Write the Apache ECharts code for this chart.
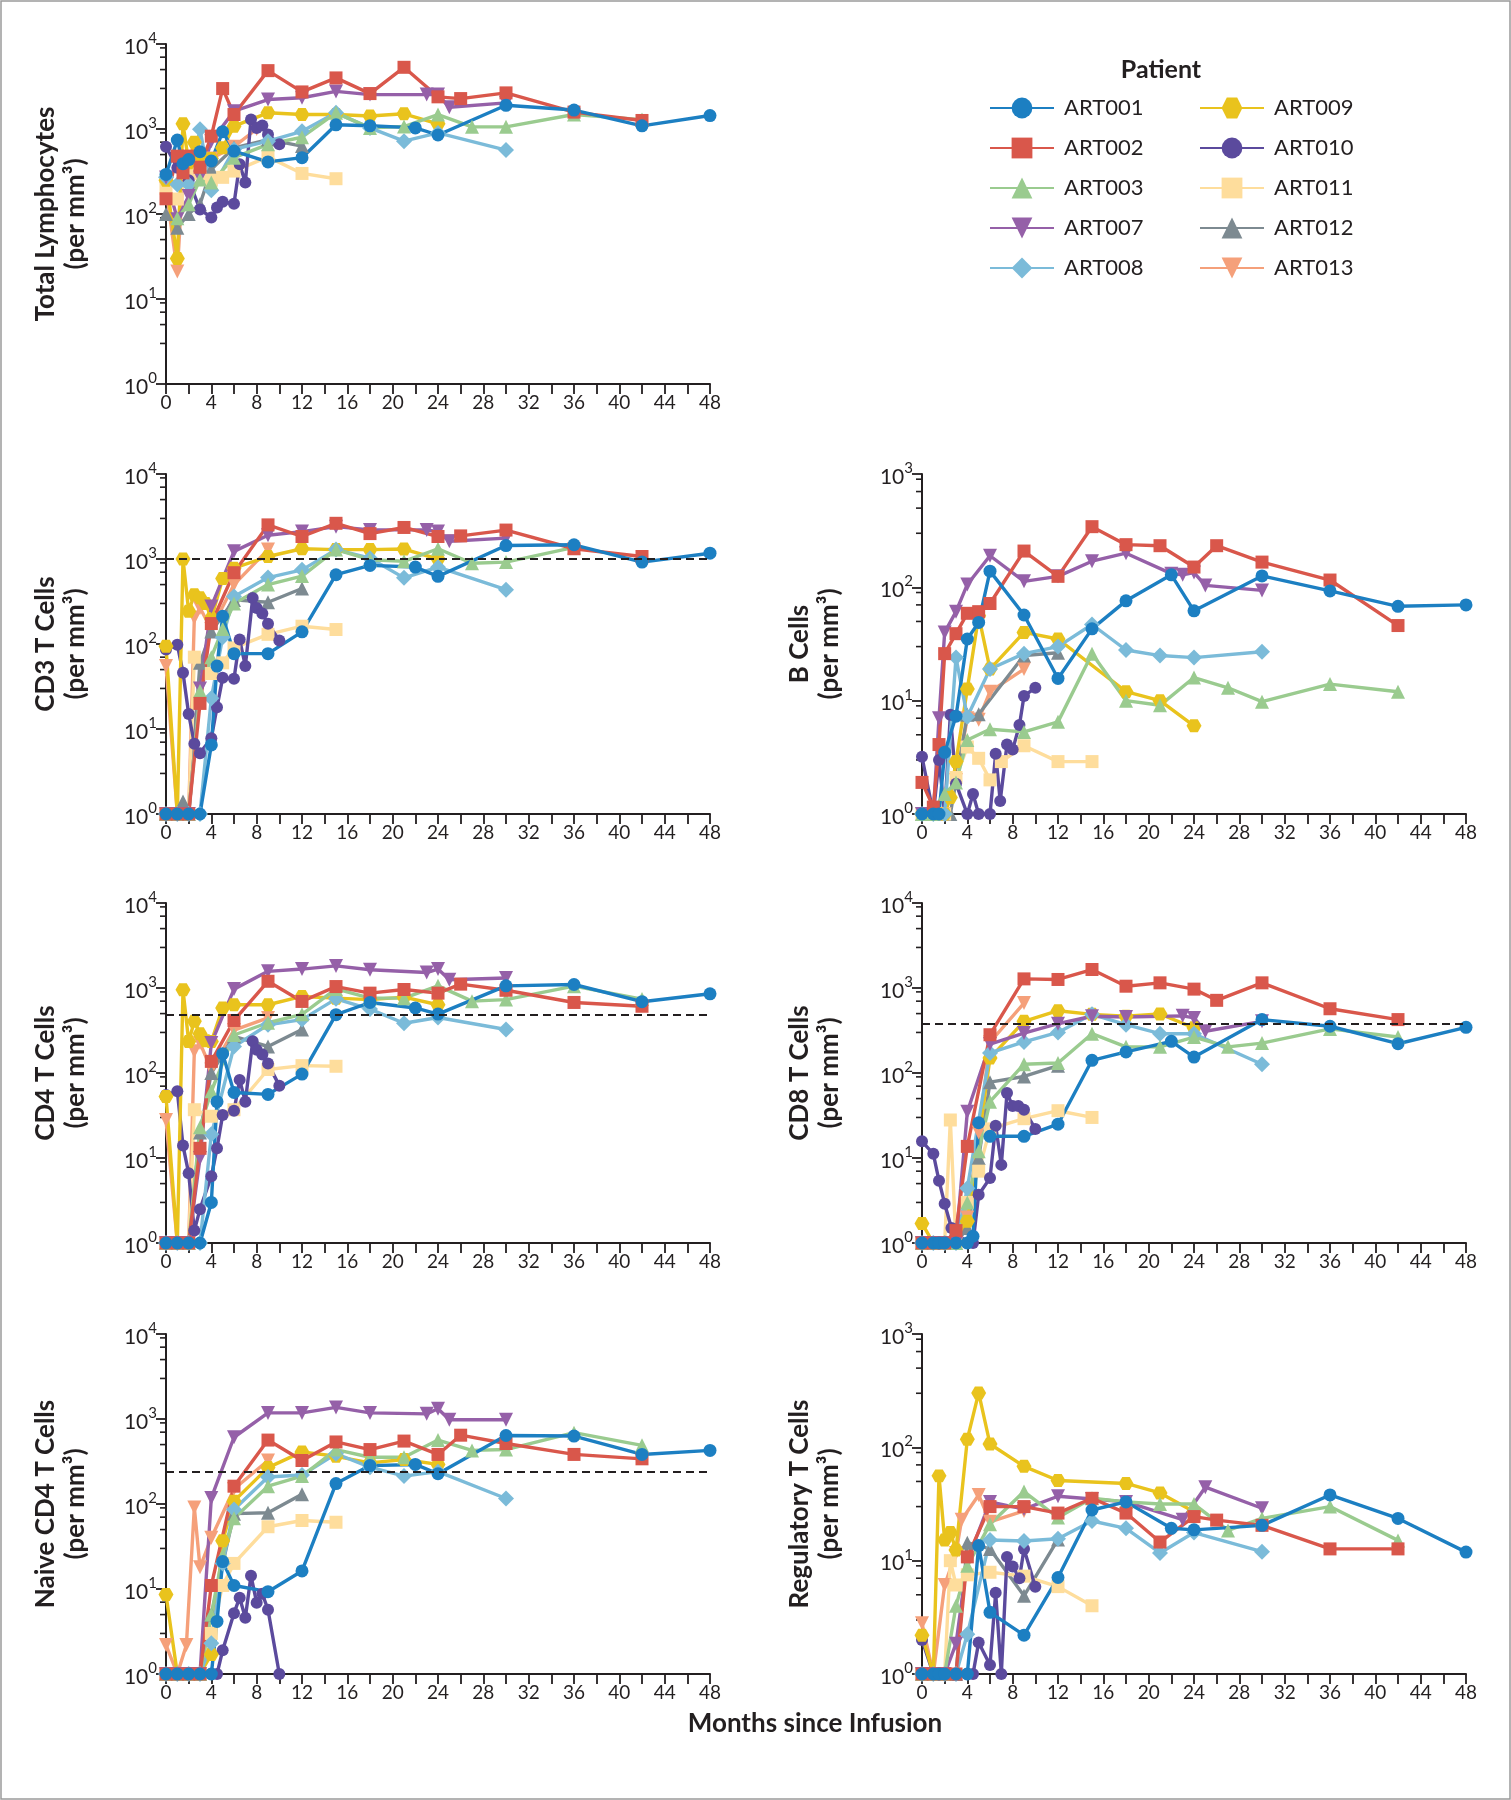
<!DOCTYPE html>
<html><head><meta charset="utf-8">
<script src="https://cdn.jsdelivr.net/npm/echarts@6/dist/echarts.min.js"></script>
<style>html,body{margin:0;padding:0;background:#fff}#c{width:1511px;height:1800px}</style>
</head><body><div id="c"></div>
<script>
// ---------------- DATA ----------------
const patients = ['ART001','ART002','ART003','ART007','ART008','ART009','ART010','ART011','ART012','ART013'];
const monthTicks = [0,4,8,12,16,20,24,28,32,36,40,44,48];
const minorTickMultipliers = [3,5,7,9];
const referenceLines = {cd3: 1000, cd4: 485, cd8: 380, naive: 240};

const totalLymphocytes = {
  ART001: [[0,292],[1,740],[1.5,390],[2,437],[3,540],[4,420],[5,930],[6,550],[9,410],[12,460],[15,1120],[18,1090],[22,1030],[24,850],[30,1900],[36,1670],[42,1090],[48,1440]],
  ART002: [[0,151],[1,480],[1.5,305],[2,480],[3,355],[4,824],[5,2990],[6,1480],[9,4860],[12,2730],[15,3990],[18,2610],[21,5320],[24,2390],[26,2280],[30,2660],[36,1580],[42,1260]],
  ART003: [[1,89],[2,130],[3,255],[4,234],[6,460],[9,660],[12,800],[15,1550],[18,1030],[21,1070],[24,1480],[27,1060],[30,1060],[36,1480],[42,1290]],
  ART007: [[0,268],[1,87],[2,163],[3,268],[4,720],[6,1620],[9,2220],[12,2330],[15,2770],[18,2540],[23,2540],[24,2540],[25,1800],[30,2030]],
  ART008: [[0,270],[1,222],[2,222],[3,990],[4,190],[6,575],[9,720],[12,940],[15,1550],[18,1030],[21,720],[24,900],[30,565]],
  ART009: [[0,250],[1,30],[1.5,1150],[2,400],[2.5,700],[3,500],[4,450],[5,600],[6,1080],[9,1550],[12,1480],[15,1480],[18,1420],[21,1510],[24,1150]],
  ART010: [[0,620],[1,350],[2,250],[3,113],[4,91],[4.5,119],[5,139],[6,132],[6.5,385],[7,234],[7.5,1290],[8,1030],[8.5,1100],[9,860],[10,660]],
  ART011: [[0,200],[1,150],[2,300],[3,300],[4,250],[5,270],[6,320],[9,470],[12,300],[15,260]],
  ART012: [[0,100],[1,69],[2,100],[3,130],[4,335],[6,600],[9,750],[12,630]],
  ART013: [[0,200],[1,21],[1.5,300],[2,400],[3,400],[4,450],[6,620],[8,1000]]
};
const cd3Cells = {
  ART001: [[0,1],[1,1],[2,1],[3,1],[4,6.5],[4.5,55],[5,212],[6,77],[9,77],[12,139],[15,653],[18,841],[22,804],[24,625],[30,1440],[36,1470],[42,920],[48,1170]],
  ART002: [[0,1],[1,1],[2,1],[3,20],[4,174],[6,690],[9,2520],[12,1840],[15,2630],[18,1990],[21,2350],[24,1840],[26,1870],[30,2190],[36,1320],[42,1070]],
  ART003: [[0,1],[1,1],[2,1],[3,28],[4,70],[5,150],[6,300],[9,500],[12,630],[15,1290],[18,980],[21,940],[24,1320],[27,890],[30,920],[36,1370]],
  ART007: [[0,1],[1,1],[2,1],[3,30],[4,277],[6,1230],[9,1900],[12,2100],[15,2400],[18,2200],[23,2200],[24,2100],[25,1620],[30,1760]],
  ART008: [[0,1],[1,1],[2,1],[3,1],[4,23],[5,120],[6,363],[9,605],[12,745],[15,1290],[18,1020],[21,600],[24,800],[30,435]],
  ART009: [[0,94],[1,1],[1.5,1000],[2,243],[2.5,380],[3,350],[3.5,300],[4,200],[5,590],[6,780],[9,1070],[12,1320],[15,1290],[18,1290],[21,1310],[24,1000]],
  ART010: [[0,86],[1,98],[1.5,46],[2,15],[2.5,6.7],[3,5.2],[4,7.8],[4.5,18],[5,40],[6,39],[6.5,113],[7,55],[7.65,348],[8,265],[8.5,228],[9,173],[10,110]],
  ART011: [[0,1],[1,1],[2,1],[2.5,70],[4,45],[5,60],[6,90],[9,130],[12,162],[15,148]],
  ART012: [[0,1],[1,1],[1.5,1.4],[2,1],[3,60],[4,140],[6,330],[9,310],[12,450]],
  ART013: [[0,55],[1,1],[2,1],[2.5,204],[3,265],[4,150],[6,500],[9,1290]]
};
const bCells = {
  ART001: [[0,1],[1,1],[1.5,1],[2,3.5],[3,7.3],[4,35],[5,49],[6,139],[9,57],[12,15.7],[15,43],[18,76],[22,129],[24,62],[30,126],[36,93],[42,68],[48,70]],
  ART002: [[0,1.9],[1,1.15],[1.5,4.1],[2,26],[3,39],[4,59],[5,61],[6,72],[9,209],[12,125],[15,343],[18,238],[21,233],[24,151],[26,233],[30,167],[36,116],[42,46]],
  ART003: [[0,1],[1,1],[2,1.5],[3,1.9],[4,4.5],[6,5.6],[9,5.3],[12,6.5],[15,26],[18,10],[21,9.1],[24,16],[27,13],[30,9.8],[36,14],[42,12]],
  ART007: [[0,1],[1,1],[1.5,7],[2,40],[3,61],[4,106],[6,190],[9,113],[12,125],[15,170],[18,200],[22,132],[23,129],[24,135],[25,104],[30,94]],
  ART008: [[0,1],[1,1],[2,1],[3,24],[4,7.2],[6,19],[9,26],[12,30],[15,47],[18,28],[21,25],[24,24],[30,27]],
  ART009: [[0,1],[1,1],[2,1],[2.5,1.4],[3,2.9],[4,12.7],[5,56],[6,19],[9,40],[12,35],[18,12],[21,10],[24,6]],
  ART010: [[0,3.2],[1,1],[1.5,3],[2,1],[2.5,7.5],[3,1.85],[4,1],[4.5,1.5],[5,1],[6,1],[6.5,3.4],[6.9,1.3],[7.5,4.1],[8,3.7],[8.6,6.1],[9,11],[10,13]],
  ART011: [[0,1],[1,1],[2,1],[3,2.1],[4,3.9],[5,3.1],[6,2.0],[7,2.9],[9,4.0],[12,2.9],[15,2.9]],
  ART012: [[0,1],[1,1],[2,1],[2.5,1],[4,7.5],[5,7.6],[9,25],[12,26.5]],
  ART013: [[0,1],[1,1],[2,1],[3,2],[4,7],[5,6.8],[6,12],[9,19]]
};
const cd4Cells = {
  ART001: [[0,1],[1,1],[2,1],[3,1],[4,3.0],[4.5,46],[5,169],[6,59],[9,56],[12,97],[15,486],[18,675],[22,582],[24,493],[30,1060],[36,1100],[42,690],[48,855]],
  ART002: [[0,1],[1,1],[2,1],[3,13],[4,137],[6,415],[9,1200],[12,695],[15,1040],[18,870],[21,960],[24,870],[26,1110],[30,940],[36,676],[42,610]],
  ART003: [[0,1],[1,1],[2,1],[3,23],[4,61],[6,280],[9,390],[12,490],[15,975],[18,760],[21,760],[24,1060],[27,700],[30,730],[36,1050],[42,740]],
  ART007: [[0,1],[1,1],[2,1],[3,10],[4,225],[6,970],[9,1570],[12,1670],[15,1820],[18,1640],[23,1520],[24,1670],[25,1250],[30,1310]],
  ART008: [[0,1],[1,1],[2,1],[3,1],[4,19],[6,205],[9,370],[12,425],[15,745],[18,565],[21,385],[24,450],[30,325]],
  ART009: [[0,53],[1,1],[1.5,955],[2,235],[2.5,405],[3,290],[3.5,240],[4,235],[5,580],[6,635],[9,635],[12,795],[15,760],[18,730],[21,780],[24,635]],
  ART010: [[0,55],[1,61],[1.5,14],[2,6.6],[2.5,1.4],[3,2.5],[4,6.1],[4.5,13],[5,32],[6,36],[6.5,83],[7,46],[7.65,236],[8,188],[8.5,165],[9,129],[10,71]],
  ART011: [[0,1],[1,1],[2,1],[2.5,37],[4,31],[6,37],[9,110],[12,122],[15,120]],
  ART012: [[0,1],[1,1],[2,1],[3,20],[4,100],[6,270],[9,205],[12,325]],
  ART013: [[0,28],[1,1],[2,1],[2.5,180],[3,225],[4,110],[6,320],[9,445]]
};
const cd8Cells = {
  ART001: [[0,1],[1,1],[1.5,1],[2,1],[3,1],[4,1],[4.5,1.2],[5,26],[6,18],[9,18],[12,25],[15,141],[18,177],[22,236],[24,154],[30,425],[36,355],[42,221],[48,345]],
  ART002: [[0,1],[1,1],[2,1],[3,1.4],[4,13.7],[6,282],[9,1280],[12,1260],[15,1650],[18,1050],[21,1150],[24,970],[26,716],[30,1150],[36,570],[42,425]],
  ART003: [[0,1],[1,1],[2,1],[3,1],[4,3],[5,12],[6,46],[9,127],[12,131],[15,290],[18,203],[21,203],[24,265],[27,203],[30,225],[36,330],[42,265]],
  ART007: [[0,1],[1,1],[2,1],[3,1],[4,35],[6,219],[9,295],[12,380],[15,465],[18,455],[23,470],[24,445],[25,310],[30,405]],
  ART008: [[0,1],[1,1],[2,1],[3,1],[4,4.4],[6,172],[9,232],[12,300],[15,490],[18,370],[21,290],[24,290],[30,127]],
  ART009: [[0,1.7],[1,1],[2,1],[3,1],[4,1.8],[6,150],[9,405],[12,540],[15,490],[18,465],[21,495],[24,340]],
  ART010: [[0,15.7],[1,11.2],[1.5,5.4],[2,2.9],[2.6,1.5],[4,1],[4.5,1],[5,3.7],[6,5.8],[6.5,24],[7,8.3],[7.5,58],[8,41],[8.5,41],[9,37],[10,22]],
  ART011: [[0,1],[1,1],[2,1],[2.5,28],[3,1],[4,3],[5,7],[6,22],[9,29],[12,36],[15,30]],
  ART012: [[0,1],[1,1],[2,1],[3,1],[4,1.5],[5,10],[6,78],[9,91],[12,122]],
  ART013: [[0,1],[1,1],[2,1],[3,1],[4,2],[5,20],[6,230],[9,665]]
};
const naiveCd4Cells = {
  ART001: [[0,1],[1,1],[2,1],[3,1],[4,1],[4.5,4.15],[5,21],[6,11],[9,9.3],[12,16.3],[15,174],[18,283],[22,292],[24,227],[30,640],[36,630],[42,383],[48,427]],
  ART002: [[0,1],[1,1],[2,1],[3,1],[4,11],[6,162],[9,565],[12,325],[15,537],[18,437],[21,550],[24,383],[26,645],[30,515],[36,383],[42,340]],
  ART003: [[0,1],[1,1],[2,1],[3,1],[4,5],[5,25],[6,68],[9,162],[12,213],[15,437],[18,355],[21,355],[24,565],[27,427],[30,437],[36,690],[42,490]],
  ART007: [[0,1],[1,1],[2,1],[3,1],[4,118],[6,610],[9,1180],[12,1180],[15,1370],[18,1180],[23,1150],[24,1320],[25,980],[30,980]],
  ART008: [[0,1],[1,1],[2,1],[3,1],[4,2.3],[5,20],[6,86],[9,208],[12,219],[15,390],[18,271],[21,213],[24,240],[30,116]],
  ART009: [[0,8.6],[1,1],[2,1],[3,1],[4,1.7],[5,37],[6,108],[9,268],[12,410],[15,364],[18,305],[21,334],[24,292]],
  ART010: [[0,1],[1,1],[2,1],[3,1],[4,1],[4.5,1],[5,1.9],[6,5.2],[6.5,7.9],[7,4.6],[7.5,14.3],[8,6.9],[8.5,8.8],[9,5.7],[10,1]],
  ART011: [[0,1],[1,1],[2,1],[3,1],[4,3],[5,11],[6,20],[9,54],[12,64],[15,61]],
  ART012: [[0,1],[1,1],[2,1],[3,1],[4,5],[6,77],[9,79],[12,130]],
  ART013: [[0,2.2],[1,1],[1.8,2.2],[2.5,91],[3,18],[4,40],[6,150],[9,325]]
};
const regulatoryTCells = {
  ART001: [[0,1],[1,1],[1.5,1],[2,1],[3,1],[4,1],[5,13.6],[6,3.5],[9,2.2],[12,7.1],[15,28],[18,33],[22,19.3],[24,18.7],[30,20.5],[36,38],[42,23.6],[48,11.9]],
  ART002: [[0,1],[1,1],[2,1],[3,1],[4,10.8],[6,30],[9,30],[12,26.3],[15,35.5],[18,26.3],[21,14.6],[24,24.5],[26,22.8],[30,20.5],[36,12.7],[42,12.7]],
  ART003: [[0,1],[1,1],[2,1],[3,4],[4,9],[6,21],[9,40.7],[12,24],[15,35.5],[18,33],[21,31.6],[24,31.6],[27,18.5],[30,23.6],[36,30],[42,15.1]],
  ART007: [[0,1],[1,1],[2,1],[3,1.85],[4,10],[6,33],[9,28.5],[12,37],[15,35],[18,33],[23,23],[25,44.5],[30,29]],
  ART008: [[0,1],[1,1],[2,1],[3,1],[4,2.24],[6,15.2],[9,14.9],[12,15.6],[15,22.4],[18,19.3],[21,11.7],[24,17.7],[30,12]],
  ART009: [[0,2.2],[1,1],[1.5,56],[2,15.2],[2.5,17.7],[3,12.4],[4,118],[5,302],[6,107],[9,68],[12,51],[18,48],[21,39.6],[24,27]],
  ART010: [[0,2.0],[1,1],[2,1],[3,1],[4,1],[4.5,1],[5,1.9],[6,1.2],[6.5,5.2],[7,1],[7.5,10.8],[8,8.9],[8.6,7.0],[9,12.7],[10,5.9]],
  ART011: [[0,1],[1,1],[2,1],[2.5,10],[3,6.1],[4,7.5],[6,7.9],[9,7.3],[12,5.9],[15,4.0]],
  ART012: [[0,1],[1,1],[2,1],[3,1],[4,14.4],[6,12.7],[9,4.9],[12,15.4]],
  ART013: [[0,2.8],[1,1],[2,6.1],[3,11.7],[3.5,23],[5,38],[6,22],[9,27.5]]
};

// ---------------- STYLE / LAYOUT ----------------
const ink = '#231f20';
const font = 'Lato, "Open Sans", sans-serif';
const hexPath = 'path://M0,0.866 L0.5,0 L1.5,0 L2,0.866 L1.5,1.732 L0.5,1.732 Z';
const styles = {
  ART001: {color:'#1c7fc2', symbol:'circle', size:13},
  ART002: {color:'#d9574b', symbol:'rect', size:13},
  ART003: {color:'#9acb8f', symbol:'triangle', size:14},
  ART007: {color:'#9560a8', symbol:'triangle', size:14, rotate:180},
  ART008: {color:'#7bbbd9', symbol:'diamond', size:16},
  ART009: {color:'#e9c31d', symbol:hexPath, size:15},
  ART010: {color:'#5b4a9d', symbol:'circle', size:12},
  ART011: {color:'#fedd9c', symbol:'rect', size:13},
  ART012: {color:'#7d8a91', symbol:'triangle', size:14},
  ART013: {color:'#f5a07a', symbol:'triangle', size:14, rotate:180}
};
const panels = [
  {data: totalLymphocytes, title: 'Total Lymphocytes', decades: 4, ref: null, col: 0, row: 0},
  {data: cd3Cells, title: 'CD3 T Cells', decades: 4, ref: referenceLines.cd3, col: 0, row: 1},
  {data: bCells, title: 'B Cells', decades: 3, ref: null, col: 1, row: 1},
  {data: cd4Cells, title: 'CD4 T Cells', decades: 4, ref: referenceLines.cd4, col: 0, row: 2},
  {data: cd8Cells, title: 'CD8 T Cells', decades: 4, ref: referenceLines.cd8, col: 1, row: 2},
  {data: naiveCd4Cells, title: 'Naive CD4 T Cells', decades: 4, ref: referenceLines.naive, col: 0, row: 3},
  {data: regulatoryTCells, title: 'Regulatory T Cells', decades: 3, ref: null, col: 1, row: 3}
];
const colLeft = [166, 922];
const colNameGap = [75, 77];
const rowTop = [44, 474, 903, 1334];
const gridW = 544, gridH = 340;

const grids = [], xAxes = [], yAxes = [], series = [];
panels.forEach((p, i) => {
  grids.push({left: colLeft[p.col], top: rowTop[p.row], width: gridW, height: gridH});
  xAxes.push({
    type: 'value', gridIndex: i, min: 0, max: 48, interval: 2,
    axisLine: {show: true, onZero: false, lineStyle: {color: ink, width: 2}},
    axisTick: {show: true, length: 10, lineStyle: {color: ink, width: 1.8}},
    axisLabel: {margin: 9, fontSize: 19, color: ink, fontFamily: font,
      formatter: v => monthTicks.indexOf(v) >= 0 ? String(v) : ''},
    splitLine: {show: false}
  });
  yAxes.push({
    type: 'log', logBase: 10, gridIndex: i, min: 1, max: Math.pow(10, p.decades), splitNumber: p.decades,
    name: p.title + '\n(per mm³)', nameLocation: 'middle', nameRotate: 90, nameGap: colNameGap[p.col],
    nameTextStyle: {fontSize: 26, fontWeight: 'bold', fontFamily: font, color: ink, lineHeight: 30},
    axisLine: {show: true, lineStyle: {color: ink, width: 2}},
    axisTick: {show: true, length: 10, lineStyle: {color: ink, width: 1.8}},
    axisLabel: {margin: 9, color: ink, fontFamily: font,
      formatter: v => '{b|10}{s|' + Math.round(Math.log10(v)) + '}',
      rich: {
        b: {fontSize: 21, fontFamily: font, color: ink, lineHeight: 27, verticalAlign: 'bottom'},
        s: {fontSize: 15, fontFamily: font, color: ink, lineHeight: 27, verticalAlign: 'top'}
      }},
    splitLine: {show: false}, minorTick: {show: false}
  });
  // minor log ticks
  const minor = [];
  for (let d = 0; d < p.decades; d++) minorTickMultipliers.forEach(m => minor.push([0, m * Math.pow(10, d)]));
  series.push({
    type: 'custom', xAxisIndex: i, yAxisIndex: i, silent: true, clip: false, data: minor,
    encode: {x: 0, y: 1},
    renderItem: (params, api) => {
      const pt = api.coord([0, api.value(1)]);
      return {type: 'line', shape: {x1: pt[0] - 6, y1: pt[1], x2: pt[0], y2: pt[1]},
        style: {stroke: ink, lineWidth: 1.6}};
    }
  });
  patients.slice().reverse().forEach((pid, k) => {
    const st = styles[pid];
    const s = {
      type: 'line', name: pid, xAxisIndex: i, yAxisIndex: i, data: p.data[pid],
      symbol: st.symbol, symbolSize: st.size, symbolRotate: st.rotate || 0, symbolKeepAspect: true,
      showAllSymbol: true, clip: false, animation: false, color: st.color,
      lineStyle: {width: 3.4, color: st.color}, itemStyle: {color: st.color, opacity: 1}
    };
    if (k === 0 && p.ref != null) {
      s.markLine = {silent: true, symbol: ['none', 'none'], label: {show: false}, animation: false,
        lineStyle: {color: ink, type: [8, 5], width: 2}, data: [{yAxis: p.ref}]};
    }
    series.push(s);
  });
});

const legendCommon = {
  orient: 'vertical', itemWidth: 64, itemHeight: 26, itemGap: 18, selectedMode: false,
  textStyle: {fontSize: 22, fontFamily: font, color: ink, padding: [0, 0, 0, 5]}
};

const option = {
  backgroundColor: '#fff',
  animation: false,
  grid: grids, xAxis: xAxes, yAxis: yAxes, series: series,
  legend: [
    Object.assign({data: patients.slice(0, 5), left: 984, top: 92}, legendCommon),
    Object.assign({data: patients.slice(5), left: 1194, top: 92}, legendCommon)
  ],
  graphic: [
    {type: 'rect', silent: true, shape: {x: 1, y: 1, width: 1509, height: 1798},
      style: {fill: 'none', stroke: '#9a9a9a', lineWidth: 1.5}},
    {type: 'text', x: 1161, y: 70, style: {text: 'Patient', fontSize: 25, fontWeight: 'bold',
      fontFamily: font, fill: ink, textAlign: 'center', textVerticalAlign: 'middle'}},
    {type: 'text', x: 815, y: 1724, style: {text: 'Months since Infusion', fontSize: 26, fontWeight: 'bold',
      fontFamily: font, fill: ink, textAlign: 'center', textVerticalAlign: 'middle'}}
  ]
};
const chart = echarts.init(document.getElementById('c'));
chart.setOption(option);
</script></body></html>
